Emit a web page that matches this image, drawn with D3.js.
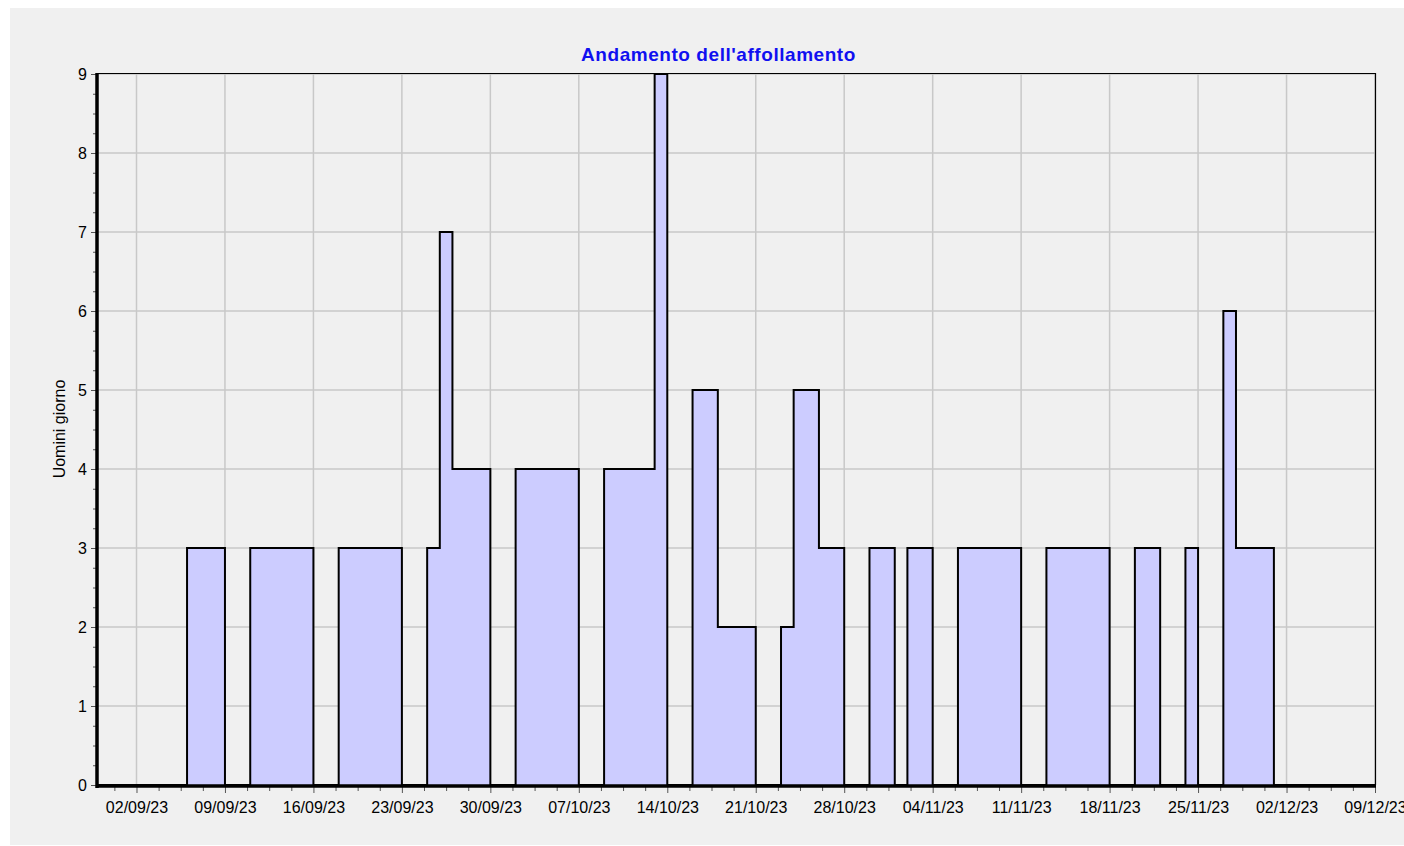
<!DOCTYPE html>
<html><head><meta charset="utf-8">
<script src="https://cdn.jsdelivr.net/npm/d3@7"></script>
<style>body{margin:0;background:#fff;}svg{display:block;font-family:"Liberation Sans",Arial,sans-serif;}</style>
</head><body><svg id="c" width="1404" height="846"></svg>
<script>
// Daily crowding values ("Uomini giorno"), starting 29/08/2023
const startDate = "2023-08-29";
const dailyValues = [
  0,0,0,0,0,0,0,0,      // 29/08 - 05/09
  3,3,3,                // 06/09 - 08/09
  0,0,                  // 09-10/09
  3,3,3,3,3,            // 11-15/09
  0,0,                  // 16-17/09
  3,3,3,3,3,            // 18-22/09
  0,0,                  // 23-24/09
  3,7,4,4,4,            // 25-29/09
  0,0,                  // 30/09-01/10
  4,4,4,4,4,            // 02-06/10
  0,0,                  // 07-08/10
  4,4,4,4,9,            // 09-13/10
  0,0,                  // 14-15/10
  5,5,2,2,2,            // 16-20/10
  0,0,                  // 21-22/10
  2,5,5,3,3,            // 23-27/10
  0,0,                  // 28-29/10
  3,3,0,3,3,            // 30/10-03/11
  0,0,                  // 04-05/11
  3,3,3,3,3,            // 06-10/11
  0,0,                  // 11-12/11
  3,3,3,3,3,            // 13-17/11
  0,0,                  // 18-19/11
  3,3,0,0,3,            // 20-24/11
  0,0,                  // 25-26/11
  6,3,3,3,              // 27-30/11
  0,0,0,0,0,0,0,0       // 01/12 - 08/12
];
const xTickLabels = ["02/09/23","09/09/23","16/09/23","23/09/23","30/09/23","07/10/23","14/10/23","21/10/23","28/10/23","04/11/23","11/11/23","18/11/23","25/11/23","02/12/23","09/12/23"];
const yTicks = [0,1,2,3,4,5,6,7,8,9];
const title = "Andamento dell'affollamento";
const yLabel = "Uomini giorno";

const parse = d3.timeParse("%d/%m/%y");
const DAY = 864e5;
const t0 = new Date(2023,7,29);
const data = dailyValues.map((v,i)=>({d:new Date(t0.getTime()+i*DAY), v}));
data.push({d:new Date(t0.getTime()+dailyValues.length*DAY), v:0});

const svg = d3.select("#c");
svg.append("rect").attr("x",10).attr("y",8).attr("width",1394).attr("height",837).attr("fill","#f0f0f0");

const L=97, R=1375, T=74, B=785;
const tickDates = xTickLabels.map(parse);
const x = d3.scaleTime()
  .domain([new Date(tickDates[0].getTime()-3.125*DAY), tickDates[tickDates.length-1]])
  .range([L,R]);
const y = d3.scaleLinear().domain([0,9]).range([B,T]);

// grid
const g = svg.append("g");
g.selectAll("line.vg").data(tickDates).join("line")
  .attr("x1",d=>x(d)).attr("x2",d=>x(d)).attr("y1",T).attr("y2",B)
  .attr("stroke","#c8c8c8").attr("stroke-width",1.5);
g.selectAll("line.hg").data(yTicks).join("line")
  .attr("x1",L).attr("x2",R).attr("y1",d=>y(d)).attr("y2",d=>y(d))
  .attr("stroke","#c8c8c8").attr("stroke-width",1.5);

// area + step line
const area = d3.area().curve(d3.curveStepAfter).x(d=>x(d.d)).y0(y(0)).y1(d=>y(d.v));
const line = d3.line().curve(d3.curveStepAfter).x(d=>x(d.d)).y(d=>y(d.v));
svg.append("clipPath").attr("id","cp").append("rect").attr("x",L).attr("y",T-2).attr("width",R-L).attr("height",B-T+4);
const pg = svg.append("g").attr("clip-path","url(#cp)");
pg.append("path").datum(data).attr("d",area).attr("fill","#ccccff");
pg.append("path").datum(data).attr("d",line).attr("fill","none").attr("stroke","#000").attr("stroke-width",2);

// frame
svg.append("line").attr("x1",L).attr("x2",R+1).attr("y1",T-0.5).attr("y2",T-0.5).attr("stroke","#000").attr("stroke-width",1.2);
svg.append("line").attr("x1",R+0.5).attr("x2",R+0.5).attr("y1",T-1).attr("y2",B).attr("stroke","#000").attr("stroke-width",1.2);

const FONT = "Liberation Sans, Arial, sans-serif";
// y axis
const minorY = d3.range(0,9.001,0.25).filter(v=>Math.abs(v-Math.round(v))>1e-6);
const yAxis = d3.axisLeft(y).tickValues(yTicks).tickSize(5).tickPadding(4).tickFormat(d3.format("d"));
const ya = svg.append("g").attr("transform",`translate(${L-1},0)`).call(yAxis);
ya.select(".domain").remove();
ya.selectAll("text").attr("font-size",16).attr("font-family",FONT).attr("fill","#000");
ya.selectAll(".tick line").attr("stroke","#555");
svg.append("g").attr("transform",`translate(${L-1},0)`).call(d3.axisLeft(y).tickValues(minorY).tickSize(3).tickFormat(""))
  .call(s=>{s.select(".domain").remove(); s.selectAll("line").attr("stroke","#555");});
svg.append("line").attr("x1",L).attr("x2",L).attr("y1",T-1).attr("y2",B+3).attr("stroke","#000").attr("stroke-width",3.5);

// x axis
const minorX = d3.range(-1,57).map(k=>new Date(tickDates[0].getTime()+k*1.75*DAY)).filter(d=>x(d)>=L+2 && x(d)<=R && (Math.round((d-tickDates[0])/DAY*1000)%7000!==0));
const xAxis = d3.axisBottom(x).tickValues(tickDates).tickSize(6).tickPadding(9).tickFormat(d3.timeFormat("%d/%m/%y"));
const xa = svg.append("g").attr("transform",`translate(0,${B+2})`).call(xAxis);
xa.select(".domain").remove();
xa.selectAll("text").attr("font-size",16).attr("font-family",FONT).attr("fill","#000");
xa.selectAll(".tick line").attr("stroke","#555");
svg.append("g").attr("transform",`translate(0,${B+2})`).call(d3.axisBottom(x).tickValues(minorX).tickSize(4).tickFormat(""))
  .call(s=>{s.select(".domain").remove(); s.selectAll("line").attr("stroke","#555");});
svg.append("line").attr("x1",L-1).attr("x2",R+1).attr("y1",B+1).attr("y2",B+1).attr("stroke","#000").attr("stroke-width",3.5);

// title and y label
svg.append("text").attr("x",718.5).attr("y",60.5).attr("text-anchor","middle")
  .attr("font-size",19).attr("font-weight","bold").attr("letter-spacing",0.55).attr("fill","#1010f0").text(title);
svg.append("text").attr("transform","translate(65,429) rotate(-90)").attr("text-anchor","middle")
  .attr("font-size",16).attr("fill","#000").text(yLabel);
</script></body></html>
